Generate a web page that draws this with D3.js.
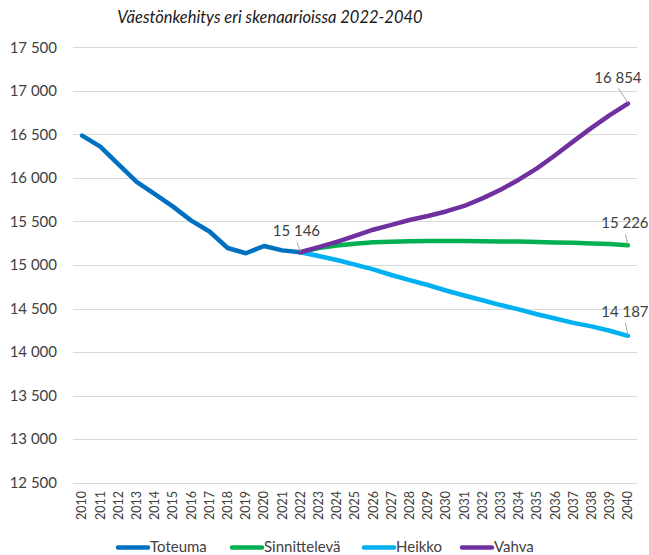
<!DOCTYPE html>
<meta charset="utf-8">
<style>

body {
  margin: 0;
  background: #fff;
}

text {
  font-family: Lato, "Open Sans", sans-serif;
  fill: #404040;
}

.grid line {
  stroke: #d9d9d9;
  stroke-width: 1px;
}

.series {
  fill: none;
  stroke-width: 4.5px;
  stroke-linejoin: round;
  stroke-linecap: round;
}

.leader {
  stroke: #a6a6a6;
  stroke-width: 1px;
}

</style>
<body>
<script src="https://cdn.jsdelivr.net/npm/d3@7"></script>
<script>

// data
var years = d3.range(2010, 2041);
var yTicks = [12500, 13000, 13500, 14000, 14500, 15000, 15500, 16000, 16500, 17000, 17500];

var toteumaYears = d3.range(2010, 2023);
var toteuma = [16485, 16360, 16155, 15955, 15815, 15670, 15510, 15385, 15195, 15135, 15218, 15168, 15146];

var scenarioYears = d3.range(2022, 2041);
var sinnitteleva = [15146, 15195, 15225, 15245, 15260, 15268, 15273, 15276, 15277, 15276, 15272, 15270, 15270, 15265, 15258, 15255, 15248, 15240, 15226];
var heikko = [15146, 15104, 15058, 15004, 14950, 14885, 14827, 14770, 14707, 14650, 14595, 14540, 14490, 14435, 14385, 14335, 14295, 14245, 14187];
var vahva = [15146, 15205, 15265, 15335, 15405, 15460, 15517, 15563, 15615, 15678, 15765, 15865, 15980, 16110, 16260, 16420, 16575, 16720, 16854];

var seriesNames = ["Toteuma", "Sinnittelevä", "Heikko", "Vahva"];
var seriesColors = ["#0070c0", "#00b050", "#00b0f0", "#7030a0"];

var width = 649,
    height = 555;

var fmt = d3.formatLocale({decimal: ",", thousands: " ", grouping: [3], currency: ["", " €"]}).format(",");

var x = d3.scalePoint()
    .domain(years)
    .range([73, 637])
    .padding(0.5);

var y = d3.scaleLinear()
    .domain([12500, 17500])
    .range([482.7, 47.3]);

var svg = d3.select("body").append("svg")
    .attr("width", width)
    .attr("height", height);

svg.append("text")
    .attr("x", 270)
    .attr("y", 23)
    .attr("text-anchor", "middle")
    .style("font-size", "16.5px")
    .style("font-style", "italic")
    .style("fill", "#1a1a1a")
    .text("Väestönkehitys eri skenaarioissa 2022-2040");

// gridlines
svg.append("g")
    .attr("class", "grid")
  .selectAll("line")
    .data(yTicks)
  .enter().append("line")
    .attr("x1", 73)
    .attr("x2", 637)
    .attr("y1", function(d) { return Math.round(y(d)) + 0.5; })
    .attr("y2", function(d) { return Math.round(y(d)) + 0.5; });

// y labels
svg.append("g")
  .selectAll("text")
    .data(yTicks)
  .enter().append("text")
    .attr("x", 57)
    .attr("y", function(d) { return y(d); })
    .attr("dy", "0.35em")
    .attr("text-anchor", "end")
    .style("font-size", "15px")
    .text(function(d) { return fmt(d); });

// x labels, rotated
svg.append("g")
  .selectAll("text")
    .data(years)
  .enter().append("text")
    .attr("transform", function(d) { return "translate(" + x(d) + ",491)rotate(-90)"; })
    .attr("dy", "0.35em")
    .attr("text-anchor", "end")
    .style("font-size", "12.5px")
    .text(function(d) { return d; });

var line = d3.line()
    .x(function(d) { return x(d[0]); })
    .y(function(d) { return y(d[1]); });

var seriesData = [
  d3.zip(toteumaYears, toteuma),
  d3.zip(scenarioYears, sinnitteleva),
  d3.zip(scenarioYears, heikko),
  d3.zip(scenarioYears, vahva)
];

svg.append("g")
  .selectAll("path")
    .data(seriesData)
  .enter().append("path")
    .attr("class", "series")
    .attr("stroke", function(d, i) { return seriesColors[i]; })
    .attr("d", line);

// data labels with leader lines
var labelPoints = [
  {year: 2022, value: 15146, dx: -4, dy: -16},
  {year: 2040, value: 16854, dx: -10, dy: -21},
  {year: 2040, value: 15226, dx: -3, dy: -17},
  {year: 2040, value: 14187, dx: -3, dy: -19}
];

var labels = svg.append("g")
  .selectAll("g")
    .data(labelPoints)
  .enter().append("g");

labels.append("line")
    .attr("class", "leader")
    .attr("x1", function(d) { return x(d.year) + d.dx + 0.5; })
    .attr("y1", function(d) { return y(d.value) + d.dy + 6; })
    .attr("x2", function(d) { return x(d.year); })
    .attr("y2", function(d) { return y(d.value) - 1; });

labels.append("text")
    .attr("x", function(d) { return x(d.year) + d.dx; })
    .attr("y", function(d) { return y(d.value) + d.dy; })
    .attr("text-anchor", "middle")
    .style("font-size", "15px")
    .text(function(d) { return fmt(d.value); });

// legend
var legendX = [118, 232, 364, 462];
var legend = svg.append("g")
  .selectAll("g")
    .data(seriesNames)
  .enter().append("g")
    .attr("transform", function(d, i) { return "translate(" + legendX[i] + ",547.5)"; });

legend.append("line")
    .attr("x1", 0)
    .attr("x2", 30)
    .attr("stroke", function(d, i) { return seriesColors[i]; })
    .attr("stroke-width", 4.5)
    .attr("stroke-linecap", "round");

legend.append("text")
    .attr("x", 32)
    .attr("y", 4)
    .style("font-size", "15px")
    .text(function(d) { return d; });

</script>
